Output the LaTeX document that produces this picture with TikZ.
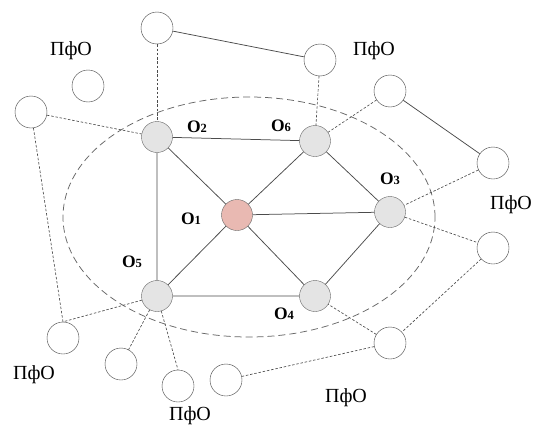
\documentclass[tikz,border=0pt]{standalone}
\usepackage{fontspec}
\setmainfont{Liberation Serif}
\usetikzlibrary{shapes.geometric}
\definecolor{vertexgrey}{HTML}{E4E4E4}
\definecolor{vertexpink}{HTML}{E9B9B2}
\newcommand{\oname}[1]{\textbf{O}{\fontsize{12.5}{13}\selectfont\textbf{#1}}}
\tikzset{
greyvertex/.style={circle, draw=black!60, fill=vertexgrey, inner sep=0pt, minimum size=31pt},
pinkvertex/.style={circle, draw=black!60, fill=vertexpink, inner sep=0pt, minimum size=31pt},
whitevertex/.style={circle, draw=black!75, fill=white, inner sep=0pt, minimum size=32pt},
solidedge/.style={draw=black!70, line width=0.75pt},
dashededge/.style={draw=black!70, line width=0.65pt, dash pattern=on 2.5pt off 1.8pt},
ellipsenode/.style={ellipse, draw=black!60, fill=none, line width=0.75pt, dash pattern=on 7pt off 4pt, inner sep=0pt, minimum width=372pt, minimum height=240pt},
olabel/.style={font=\fontsize{17.5}{19}\selectfont, inner sep=0pt},
pfolabel/.style={font=\fontsize{20}{22}\selectfont, inner sep=0pt},
}

\begin{document}
\begin{tikzpicture}[x=1pt,y=-1pt]
        \fill[white] (0,0) rectangle (534,428);
        \useasboundingbox (0,0) rectangle (534,428);
        \node[ellipsenode] at (249,217) (zone) {};

        \node[pinkvertex] at (237,215) (o1) {};
        \node[greyvertex] at (157,137) (o2) {};
        \node[greyvertex] at (390,212) (o3) {};
        \node[greyvertex] at (315,296) (o4) {};
        \node[greyvertex] at (157,296) (o5) {};
        \node[greyvertex] at (315,141) (o6) {};

        \node[whitevertex] at (157,28) (p1) {};
        \node[whitevertex] at (88,86) (p2) {};
        \node[whitevertex] at (31,112) (p3) {};
        \node[whitevertex] at (320,60) (p4) {};
        \node[whitevertex] at (390,91) (p5) {};
        \node[whitevertex] at (493,163) (p6) {};
        \node[whitevertex] at (493,248) (p7) {};
        \node[whitevertex] at (390,343) (p8) {};
        \node[whitevertex] at (63,338) (p9) {};
        \node[whitevertex] at (121,364) (p10) {};
        \node[whitevertex] at (178,386) (p11) {};
        \node[whitevertex] at (226,380) (p12) {};

        \draw[solidedge] (o2)--(o6)--(o3)--(o4)--(o5)--(o2);
        \draw[solidedge] (o1)--(o2);
        \draw[solidedge] (o1)--(o6);
        \draw[solidedge] (o1)--(o3);
        \draw[solidedge] (o1)--(o4);
        \draw[solidedge] (o1)--(o5);
        \draw[solidedge] (p1)--(p4);
        \draw[solidedge] (p5)--(p6);

        \draw[dashededge] (p1)--(o2);
        \draw[dashededge] (p3)--(o2);
        \draw[dashededge] (p3)--(p9.north);
        \draw[dashededge] (o5)--(p9.north);
        \draw[dashededge] (o5)--(p10);
        \draw[dashededge] (o5)--(p11.north);
        \draw[dashededge] (p4)--(o6);
        \draw[dashededge] (p5)--(o6);
        \draw[dashededge] (p6)--(o3);
        \draw[dashededge] (o3)--(p7);
        \draw[dashededge] (p7)--(p8);
        \draw[dashededge] (p8)--(o4);
        \draw[dashededge] (p8)--(p12);

        \node[olabel] at (191,219) (lo1) {\oname{1}};
        \node[olabel] at (197,127) (lo2) {\oname{2}};
        \node[olabel] at (390,179) (lo3) {\oname{3}};
        \node[olabel] at (284,314) (lo4) {\oname{4}};
        \node[olabel] at (132,262) (lo5) {\oname{5}};
        \node[olabel] at (281,126) (lo6) {\oname{6}};

        \node[pfolabel] at (71,51) (lp1) {ПфО};
        \node[pfolabel] at (374,51) (lp2) {ПфО};
        \node[pfolabel] at (511,205) (lp3) {ПфО};
        \node[pfolabel] at (34,375) (lp4) {ПфО};
        \node[pfolabel] at (190,416) (lp5) {ПфО};
        \node[pfolabel] at (346,398) (lp6) {ПфО};
    \end{tikzpicture}
\end{document}
